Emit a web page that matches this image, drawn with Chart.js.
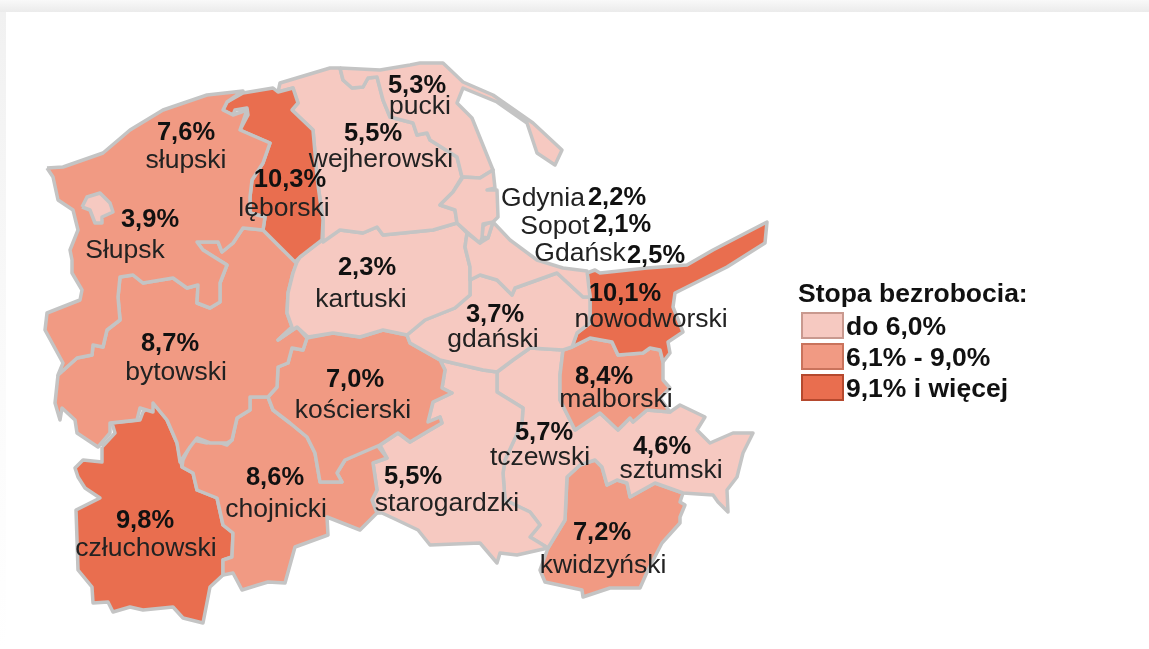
<!DOCTYPE html>
<html>
<head>
<meta charset="utf-8">
<title>Stopa bezrobocia</title>
<script src="https://cdn.jsdelivr.net/npm/chart.js@4"></script>
<style>
    html, body { margin: 0; padding: 0; background: #fff; overflow: hidden; }
    #bandTop { position: absolute; left: 0; top: 0; width: 1149px; height: 12px; background: linear-gradient(#f9f9f9, #ebebeb); }
    #bandLeft { position: absolute; left: 0; top: 12px; width: 6px; height: 637px; background: linear-gradient(#f1f1f1, #fbfbfb 60%, #fff); }
    #map { position: absolute; left: 0; top: 0; filter: blur(0.5px); }
</style>
</head>
<body>
<div id="bandTop"></div>
<div id="bandLeft"></div>
<canvas id="map" width="1149" height="649"></canvas>
<script>
var names = ['Słupsk', 'Gdynia', 'Sopot', 'Gdańsk', 'słupski', 'lęborski', 'pucki', 'wejherowski', 'kartuski', 'gdański',
    'nowodworski', 'malborski', 'bytowski', 'kościerski', 'chojnicki', 'człuchowski', 'starogardzki', 'tczewski', 'sztumski', 'kwidzyński'];
var values = [3.9, 2.2, 2.1, 2.5, 7.6, 10.3, 5.3, 5.5, 2.3, 3.7,
    10.1, 8.4, 8.7, 7.0, 8.6, 9.8, 5.5, 5.7, 4.6, 7.2];

var legendTitle = 'Stopa bezrobocia:';
var legendLabels = ['do 6,0%', '6,1% - 9,0%', '9,1% i więcej'];
var classColors = ['#f6c9c1', '#f19a83', '#e96e4f'];
var classBorders = ['#c9998f', '#c9735c', '#b5492e'];

// outlines, in picture units
var slupskPts = [[82,207],[87,197],[100,193],[110,203],[113,212],[102,217],[102,223],[95,223],[90,210]];
var gdyniaPts = [[463,177],[480,178],[493,170],[495,188],[487,190],[497,190],[498,217],[493,222],[483,224],[482,238],[480,243],[467,232],[457,223],[455,210],[440,205],[453,192]];
var sopotPts = [[488,223],[493,222],[488,238],[482,237],[483,226]];
var gdanskPts = [[467,233],[480,243],[488,238],[493,222],[510,240],[537,260],[563,268],[587,271],[590,297],[583,297],[557,273],[515,288],[512,295],[497,280],[480,275],[470,280],[470,267],[465,247]];
var slupskiPts = [[47,168],[63,167],[103,153],[130,130],[163,110],[207,95],[243,91],[227,102],[223,110],[233,115],[247,110],[240,130],[270,143],[263,163],[252,180],[250,197],[250,213],[265,217],[263,230],[243,228],[233,243],[222,252],[218,242],[197,242],[203,250],[227,265],[220,283],[220,302],[210,308],[197,303],[198,285],[187,288],[173,278],[143,283],[133,275],[120,277],[118,297],[120,320],[107,330],[103,347],[93,345],[92,355],[77,358],[58,375],[63,363],[45,330],[47,313],[80,300],[82,290],[72,273],[72,260],[70,250],[78,230],[73,210],[58,200],[53,177]];
var leborskiPts = [[227,102],[243,93],[273,88],[278,92],[293,88],[298,103],[292,110],[313,130],[315,153],[317,177],[320,200],[323,220],[322,240],[300,257],[295,262],[283,250],[263,230],[265,217],[250,213],[250,197],[252,180],[263,163],[270,143],[240,130],[248,115],[247,108],[235,110],[233,115],[223,110]];
var puckiPts = [[340,68],[343,80],[352,88],[363,87],[368,78],[377,77],[383,100],[390,117],[413,123],[417,135],[427,133],[430,140],[457,157],[462,177],[480,178],[493,170],[472,118],[457,103],[463,88],[497,102],[527,123],[537,153],[555,165],[562,150],[533,123],[493,95],[463,82],[443,63],[420,63],[410,65],[380,70]];
var wejherowskiPts = [[278,92],[280,83],[330,68],[340,68],[343,80],[352,88],[363,87],[368,78],[377,77],[383,100],[390,117],[413,123],[417,135],[427,133],[430,140],[457,157],[462,177],[453,192],[440,205],[455,210],[457,223],[433,230],[413,232],[383,235],[377,227],[363,233],[340,230],[323,242],[323,220],[317,177],[315,153],[313,130],[292,110],[298,103],[293,88]];
var kartuskiPts = [[300,257],[322,240],[340,230],[363,233],[377,227],[383,235],[413,232],[433,230],[457,223],[467,233],[465,247],[470,267],[470,295],[455,308],[425,320],[407,335],[383,330],[360,337],[333,333],[308,337],[297,327],[278,340],[292,327],[287,313],[288,293],[293,273],[297,262]];
var gdanskiPts = [[470,280],[480,275],[497,280],[512,295],[515,288],[557,273],[583,297],[590,297],[590,323],[577,333],[572,347],[563,350],[530,348],[513,360],[497,372],[483,370],[440,360],[410,343],[407,335],[425,320],[455,308],[470,295]];
var nowodworskiPts = [[572,347],[577,333],[590,323],[590,297],[587,273],[595,270],[600,273],[647,268],[687,265],[713,250],[767,222],[765,243],[727,267],[687,287],[675,293],[673,307],[683,332],[668,342],[670,353],[663,362],[660,350],[650,348],[643,353],[618,355],[612,342],[590,338]];
var malborskiPts = [[563,350],[572,347],[590,338],[612,342],[618,355],[643,353],[650,348],[660,350],[663,362],[663,380],[670,388],[660,398],[670,412],[647,410],[633,422],[630,418],[618,430],[600,413],[575,430],[570,420],[560,400],[560,375]];
var bytowskiPts = [[58,375],[77,358],[92,355],[93,345],[103,347],[107,330],[120,320],[118,297],[120,277],[133,275],[143,283],[173,278],[187,288],[198,285],[197,303],[210,308],[220,302],[220,283],[227,265],[203,250],[197,242],[218,242],[222,252],[233,243],[243,228],[263,230],[283,250],[297,262],[293,273],[288,293],[287,313],[292,327],[278,340],[297,327],[307,338],[303,350],[292,348],[288,363],[278,367],[277,387],[268,397],[250,397],[250,410],[237,418],[232,440],[227,443],[210,443],[197,438],[190,447],[180,462],[177,443],[167,420],[153,403],[153,412],[140,408],[137,420],[110,423],[110,433],[98,447],[77,433],[75,420],[62,408],[60,420],[55,403]];
var koscierskiPts = [[307,338],[333,333],[360,337],[383,330],[407,335],[410,343],[440,360],[445,370],[442,388],[452,393],[433,402],[428,422],[440,417],[442,423],[430,430],[410,442],[398,433],[380,445],[345,460],[337,473],[342,482],[320,482],[315,453],[307,437],[290,423],[273,410],[268,397],[277,387],[278,367],[288,363],[292,348],[303,350]];
var chojnickiPts = [[183,460],[193,440],[207,443],[213,440],[227,445],[232,440],[237,418],[250,410],[250,397],[268,397],[273,410],[290,423],[307,437],[315,453],[320,482],[342,482],[337,473],[345,460],[377,445],[387,458],[373,463],[377,490],[372,500],[377,513],[360,530],[327,517],[328,535],[295,547],[285,583],[268,582],[258,585],[242,590],[233,573],[223,575],[223,560],[232,557],[233,533],[223,525],[217,498],[197,490],[193,473],[182,467]];
var czluchowskiPts = [[102,447],[115,433],[112,423],[140,420],[143,412],[153,403],[167,420],[177,443],[182,467],[193,473],[197,490],[217,498],[223,525],[233,533],[232,557],[223,560],[223,575],[210,587],[203,623],[183,618],[173,607],[143,610],[130,607],[113,612],[108,602],[93,603],[92,587],[78,570],[76,510],[100,498],[85,488],[78,477],[75,468],[83,460],[102,462]];
var starogardzkiPts = [[440,360],[483,370],[497,372],[497,392],[523,408],[522,423],[505,460],[503,473],[505,500],[530,512],[540,525],[530,537],[548,548],[517,555],[500,553],[497,563],[480,543],[430,545],[418,530],[397,520],[382,513],[377,513],[372,500],[377,490],[373,463],[387,458],[380,445],[398,433],[410,442],[430,430],[442,423],[440,417],[428,422],[433,402],[452,393],[442,388],[445,370]];
// tczewski and sztumski have no visible border between them in the picture
var tczewskiPts = [[497,372],[513,360],[530,348],[563,350],[560,375],[560,400],[570,420],[575,430],[600,413],[618,430],[630,418],[633,422],[647,410],[670,412],[680,405],[705,417],[697,430],[710,443],[733,433],[753,433],[743,453],[737,477],[727,490],[728,512],[718,502],[713,495],[683,493],[655,483],[630,497],[627,483],[617,480],[607,485],[602,467],[595,460],[580,465],[567,477],[565,520],[548,548],[530,537],[540,525],[530,512],[505,500],[503,473],[505,460],[522,423],[523,408],[497,392]];
var kwidzynskiPts = [[595,460],[602,467],[607,485],[617,480],[627,483],[630,497],[655,483],[683,493],[680,502],[685,505],[680,517],[680,523],[662,543],[648,570],[640,588],[610,588],[583,597],[582,590],[545,582],[540,570],[548,548],[565,520],[567,477],[580,465]];

var outlines = [slupskPts, gdyniaPts, sopotPts, gdanskPts, slupskiPts, leborskiPts, puckiPts, wejherowskiPts, kartuskiPts, gdanskiPts,
    nowodworskiPts, malborskiPts, bytowskiPts, koscierskiPts, chojnickiPts, czluchowskiPts, starogardzkiPts, tczewskiPts, null, kwidzynskiPts];

// where the two text lines of each unit sit, picture units
var valueAt = [[150,220],[617,198],[622,225],[656,256],[186,133],[290,180],[417,86],[373,134],[367,268],[495,315],
    [625,294],[604,377],[170,344],[355,380],[275,478],[145,521],[413,477],[544,433],[662,447],[602,533]];
var nameAt = [[125,251],[543,199],[555,227],[580,254],[186,161],[284,209],[420,107],[381,160],[361,300],[493,340],
    [651,320],[616,400],[176,373],[353,411],[276,510],[146,549],[447,504],[540,458],[671,471],[603,566]];

var FONT = '"Liberation Sans", Arial, sans-serif';

function classOf(value) {
    if (value <= 6) return 0;
    if (value <= 9) return 1;
    return 2;
}

function formatValue(value) {
    return value.toFixed(1).replace('.', ',') + '%';
}

var datasets = [];
outlines.forEach(function (pts, i) {
    if (!pts) return;
    var closed = pts.concat([pts[0]]);
    datasets.push({
        label: names[i],
        data: closed.map(function (p) { return { x: p[0], y: p[1] }; }),
        showLine: true,
        fill: 'shape',
        tension: 0,
        backgroundColor: classColors[classOf(values[i])],
        borderColor: '#c4c4c4',
        borderWidth: 3.5,
        borderJoinStyle: 'round',
        pointRadius: 0
    });
});

var mapLabels = {
    id: 'mapLabels',
    afterDatasetsDraw: function (chart) {
        var ctx = chart.ctx;
        var sx = chart.scales.x;
        var sy = chart.scales.y;
        ctx.save();
        ctx.textAlign = 'center';
        ctx.textBaseline = 'middle';
        names.forEach(function (name, i) {
            ctx.fillStyle = '#111';
            ctx.font = 'bold 25.5px ' + FONT;
            ctx.fillText(formatValue(values[i]), sx.getPixelForValue(valueAt[i][0]), sy.getPixelForValue(valueAt[i][1]));
            ctx.fillStyle = '#222';
            ctx.font = '26.5px ' + FONT;
            ctx.fillText(name, sx.getPixelForValue(nameAt[i][0]), sy.getPixelForValue(nameAt[i][1]));
        });
        ctx.restore();
    }
};

var mapLegend = {
    id: 'mapLegend',
    afterDraw: function (chart) {
        var ctx = chart.ctx;
        var rowY = [313, 344, 375];
        ctx.save();
        ctx.textBaseline = 'middle';
        ctx.fillStyle = '#111';
        ctx.font = 'bold 26.5px ' + FONT;
        ctx.fillText(legendTitle, 798, 295);
        legendLabels.forEach(function (text, i) {
            ctx.fillStyle = classColors[i];
            ctx.strokeStyle = classBorders[i];
            ctx.lineWidth = 2;
            ctx.fillRect(802, rowY[i], 41, 25);
            ctx.strokeRect(802, rowY[i], 41, 25);
            ctx.fillStyle = '#111';
            ctx.fillText(text, 846, rowY[i] + 15);
        });
        ctx.restore();
    }
};

var chart = new Chart(document.getElementById('map'), {
    type: 'scatter',
    data: { datasets: datasets },
    plugins: [mapLabels, mapLegend],
    options: {
        responsive: false,
        animation: false,
        layout: { padding: 0 },
        plugins: {
            legend: { display: false },
            tooltip: { enabled: false },
            filler: { propagate: false }
        },
        scales: {
            x: { type: 'linear', display: false, min: 0, max: 1149 },
            y: { type: 'linear', display: false, min: 0, max: 649, reverse: true }
        }
    }
});
</script>
</body>
</html>
